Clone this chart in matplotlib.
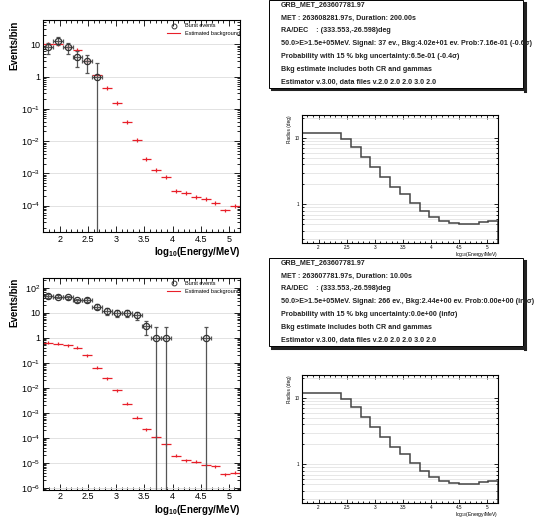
import numpy as np
import matplotlib
matplotlib.use('Agg')
import matplotlib.pyplot as plt
from matplotlib.ticker import FuncFormatter, MultipleLocator, FixedLocator, NullFormatter
from matplotlib.patches import Rectangle

plt.rcParams['font.family'] = ['Liberation Sans', 'DejaVu Sans']
plt.rcParams['mathtext.fontset'] = 'custom'
plt.rcParams['mathtext.rm'] = 'Liberation Sans'
plt.rcParams['mathtext.bf'] = 'Liberation Sans:bold'

# energy bins, log10(E/MeV)
edges = np.linspace(1.7, 5.2, 21)
centers = (edges[:-1] + edges[1:]) / 2

# 200 s window
burst_a = [8, 13, 8, 4, 3, 1]
burst_a_up = [2.8, 3.6, 2.8, 2.0, 1.8, 1.6]
bkg_a = [10.5, 10.3, 8.0, 6.5, 3.0, 1.1, 0.45, 0.15, 0.04, 0.011, 0.0028, 0.0013,
         0.00078, 0.00028, 0.00025, 0.00018, 0.00016, 0.00012, 7.0e-5, 9.5e-5]

# 10 s window
burst_b_bins = [0, 1, 2, 3, 4, 5, 6, 7, 8, 9, 10, 11, 12, 16]
burst_b = [48, 45, 43, 32, 34, 18, 12, 10, 10, 8, 3, 1, 1, 1]
burst_b_up = [7, 6.7, 6.6, 5.7, 5.8, 4.2, 3.5, 3.2, 3.2, 2.8, 1.9, 1.7, 1.7, 1.7]
bkg_b = [0.65, 0.6, 0.5, 0.4, 0.2, 0.065, 0.024, 0.008, 0.0023, 0.00065, 0.00022, 0.00011,
         5.5e-5, 1.9e-5, 1.3e-5, 1.1e-5, 8.5e-6, 7.5e-6, 3.5e-6, 4.0e-6]

# PSF radius (deg)
radius = [11.9, 11.9, 11.9, 11.9, 9.7, 7.2, 5.2, 3.7, 2.6, 1.85, 1.43, 1.06, 0.80,
          0.645, 0.555, 0.525, 0.51, 0.515, 0.535, 0.57]

info_a = ["GRB_MET_263607781.97",
          "MET : 263608281.97s, Duration: 200.00s",
          "RA/DEC    : (333.553,-26.598)deg",
          "50.0>E>1.5e+05MeV. Signal: 37 ev., Bkg:4.02e+01 ev. Prob:7.16e-01 (-0.6\u03c3)",
          "Probability with 15 % bkg uncertainty:6.5e-01 (-0.4\u03c3)",
          "Bkg estimate includes both CR and gammas",
          "Estimator v.3.00, data files v.2.0 2.0 2.0 3.0 2.0"]
info_b = ["GRB_MET_263607781.97",
          "MET : 263607781.97s, Duration: 10.00s",
          "RA/DEC    : (333.553,-26.598)deg",
          "50.0>E>1.5e+05MeV. Signal: 266 ev., Bkg:2.44e+00 ev. Prob:0.00e+00 (inf\u03c3)",
          "Probability with 15 % bkg uncertainty:0.0e+00 (inf\u03c3)",
          "Bkg estimate includes both CR and gammas",
          "Estimator v.3.00, data files v.2.0 2.0 2.0 3.0 2.0"]


def logfmt(v, pos):
    k = int(round(np.log10(v)))
    if k == 0:
        return '1'
    if k == 1:
        return '10'
    return '$10^{%d}$' % k


def log_ticks(lo, hi):
    major, minor = [], []
    for k in range(int(np.floor(np.log10(lo))), int(np.ceil(np.log10(hi))) + 1):
        if lo <= 10.0 ** k <= hi:
            major.append(10.0 ** k)
        for m in range(2, 10):
            if lo <= m * 10.0 ** k <= hi:
                minor.append(m * 10.0 ** k)
    return major, minor


def style_axes(ax, fs, ylim):
    ax.set_xlim(1.7, 5.2)
    ax.set_ylim(*ylim)
    ax.xaxis.set_major_locator(FixedLocator([2, 2.5, 3, 3.5, 4, 4.5, 5]))
    ax.xaxis.set_minor_locator(MultipleLocator(0.1))
    ax.xaxis.set_major_formatter(FuncFormatter(lambda v, p: '%g' % v))
    major, minor = log_ticks(*ylim)
    ax.yaxis.set_major_locator(FixedLocator(major))
    ax.yaxis.set_minor_locator(FixedLocator(minor))
    ax.yaxis.set_minor_formatter(NullFormatter())
    ax.tick_params(which='both', direction='in', top=True, right=True, labelsize=fs,
                   pad=2, width=0.6)
    ax.tick_params(which='major', length=4)
    ax.tick_params(which='minor', length=2)
    for s in ax.spines.values():
        s.set_linewidth(0.8)


def spectrum(ax, bins, counts, up, bkg, ylim):
    ax.set_yscale('log')
    ax.grid(axis='y', which='major', color='#dddddd', lw=0.6)
    ax.set_axisbelow(True)
    hw = (edges[1] - edges[0]) / 2
    ax.errorbar(centers, bkg, xerr=hw, yerr=[np.array(bkg) * 0.13, np.array(bkg) * 0.15],
                fmt='none', ecolor='#e8202a', elinewidth=0.9)
    c = np.array(counts, float)
    low = c - np.maximum(c - np.sqrt(c), 1e-12)
    ax.errorbar(centers[bins], c, xerr=hw, yerr=[low, up], fmt='o', ms=4.5,
                mfc='none', mec='#333333', mew=0.9, ecolor='#555555', elinewidth=0.9,
                capsize=1.2, capthick=0.8)
    ax.plot([], [], 'o', ms=3.5, mfc='none', mec='#333333', mew=0.7, label='Burst events')
    ax.plot([], [], '-', color='#e8202a', lw=0.8, label='Estimated background')
    ax.legend(loc='upper right', bbox_to_anchor=(1.01, 0.995), borderaxespad=0,
              frameon=False, fontsize=4, handlelength=2.4, labelspacing=0.45,
              handletextpad=0.8)
    style_axes(ax, 6.5, ylim)
    ax.yaxis.set_major_formatter(FuncFormatter(logfmt))
    ax.set_xlabel(r'$\mathbf{log_{10}(Energy/MeV)}$', fontsize=7, loc='right', labelpad=1)
    ax.set_ylabel('Events/bin', fontsize=7, fontweight='bold', loc='top', labelpad=1)


def radius_plot(ax):
    ax.set_yscale('log')
    ax.grid(axis='y', which='both', color='#dddddd', lw=0.5)
    ax.set_axisbelow(True)
    ax.stairs(radius, edges, color='#444444', lw=1.1)
    style_axes(ax, 3.3, (0.26, 22))
    ax.tick_params(which='major', length=3, pad=1.5)
    ax.tick_params(which='minor', length=1.5)
    ax.yaxis.set_major_formatter(FuncFormatter(lambda v, p: '%g' % v))
    ax.set_xlabel(r'log$_{10}$(Energy/MeV)', fontsize=3.6, loc='right', labelpad=0)
    ax.set_ylabel('Radius (deg)', fontsize=3.4, loc='top', labelpad=2)


def info_box(fig, lines, top):
    W, H = 540.0, 518.0
    x0, x1 = 269, 523
    y0, y1 = top, top + 88
    fig.patches.append(Rectangle((x0 / W, 1 - y1 / H), (x1 - x0) / W, (y1 - y0) / H,
                                 transform=fig.transFigure, fill=True, fc='white',
                                 ec='black', lw=0.7, zorder=5))
    fig.add_artist(plt.Line2D([(x0 + 3) / W, (x1 + 2) / W], [1 - (y1 + 1.5) / H] * 2,
                              transform=fig.transFigure, color='#222222', lw=2.2, zorder=5))
    fig.add_artist(plt.Line2D([(x1 + 1.5) / W] * 2, [1 - (y0 + 3) / H, 1 - (y1 + 2.5) / H],
                              transform=fig.transFigure, color='#222222', lw=2.2, zorder=5))
    for i, s in enumerate(lines):
        fig.text(281 / W, 1 - (top + 5 + i * 12.9) / H, s, fontsize=5.1, fontweight='bold',
                 va='center', ha='left', color='#222222', zorder=6)


fig = plt.figure(figsize=(5.4, 5.18), dpi=100)

ax1 = fig.add_axes([0.0796, 0.552, 0.365, 0.409])
spectrum(ax1, list(range(6)), burst_a, burst_a_up, bkg_a, (1.5e-5, 56))

ax2 = fig.add_axes([0.0796, 0.0546, 0.365, 0.4087])
spectrum(ax2, burst_b_bins, burst_b, burst_b_up, bkg_b, (8.5e-7, 250))

ax3 = fig.add_axes([0.5587, 0.5303, 0.364, 0.2477])
radius_plot(ax3)

ax4 = fig.add_axes([0.5587, 0.0284, 0.364, 0.2477])
radius_plot(ax4)

info_box(fig, info_a, 0)
info_box(fig, info_b, 258)

fig.savefig('out.png', dpi=100)
